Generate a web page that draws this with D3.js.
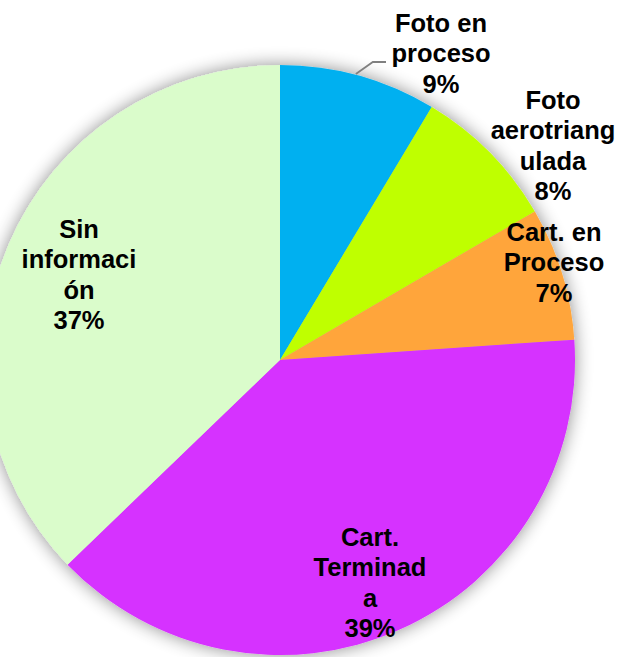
<!DOCTYPE html>
<html>
<head>
<meta charset="utf-8">
<script src="https://cdn.jsdelivr.net/npm/d3@7"></script>
<style>
html,body{margin:0;padding:0;background:#fff;}
svg{display:block;}
</style>
</head>
<body>
<svg id="chart" width="621" height="657"></svg>
<script>
const categories = ["Foto en proceso", "Foto aerotriangulada", "Cart. en Proceso", "Cart. Terminada", "Sin información"];
const values = [8.6, 8.0, 7.3, 38.9, 37.2];
const labelLines = [
  ["Foto en", "proceso", "9%"],
  ["Foto", "aerotriang", "ulada", "8%"],
  ["Cart. en", "Proceso", "7%"],
  ["Cart.", "Terminad", "a", "39%"],
  ["Sin", "informaci", "ón", "37%"]
];
const colors = ["#00B0F0", "#BFFF00", "#FFA53B", "#D630FF", "#DAFCCB"];

const svg = d3.select("#chart");
const cx = 280, cy = 360, r = 295;

const defs = svg.append("defs");
const f = defs.append("filter").attr("id", "glow").attr("x", "-20%").attr("y", "-20%").attr("width", "140%").attr("height", "140%");
f.append("feGaussianBlur").attr("in", "SourceAlpha").attr("stdDeviation", 9).attr("result", "b");
f.append("feComponentTransfer").attr("in", "b").attr("result", "b2")
  .append("feFuncA").attr("type", "linear").attr("slope", 0.45);
const m = f.append("feMerge");
m.append("feMergeNode").attr("in", "b2");
m.append("feMergeNode").attr("in", "SourceGraphic");

const pie = d3.pie().sort(null).value(d => d);
const arcs = pie(values);
const arc = d3.arc().innerRadius(0).outerRadius(r);

const g = svg.append("g").attr("transform", `translate(${cx},${cy})`);
g.append("g").attr("filter", "url(#glow)")
  .selectAll("path").data(arcs).enter().append("path")
  .attr("d", arc)
  .attr("fill", (d, i) => colors[i]);

// label placement (centre x, first baseline)
const labelPos = [
  [441, 32], [553, 109], [554, 241], [370, 546], [79, 238]
];
const lh = 30.3;
labelLines.forEach((lines, i) => {
  const t = svg.append("text")
    .attr("text-anchor", "middle")
    .attr("font-family", "Liberation Sans, Arial, sans-serif")
    .attr("font-weight", "bold")
    .attr("font-size", 25.5)
    .attr("fill", "#000");
  lines.forEach((s, j) => {
    t.append("tspan").attr("x", labelPos[i][0]).attr("y", labelPos[i][1] + j * lh).text(s);
  });
});

// leader line for first slice
const mid = (arcs[0].startAngle + arcs[0].endAngle) / 2;
const ang = 0.26;
const p0 = [cx + r * Math.sin(ang), cy - r * Math.cos(ang)];
svg.append("path")
  .attr("d", `M${p0[0]},${p0[1] - 1} L${p0[0] + 17},62 L386,62`)
  .attr("fill", "none").attr("stroke", "#808080").attr("stroke-width", 1.8);
</script>
</body>
</html>
